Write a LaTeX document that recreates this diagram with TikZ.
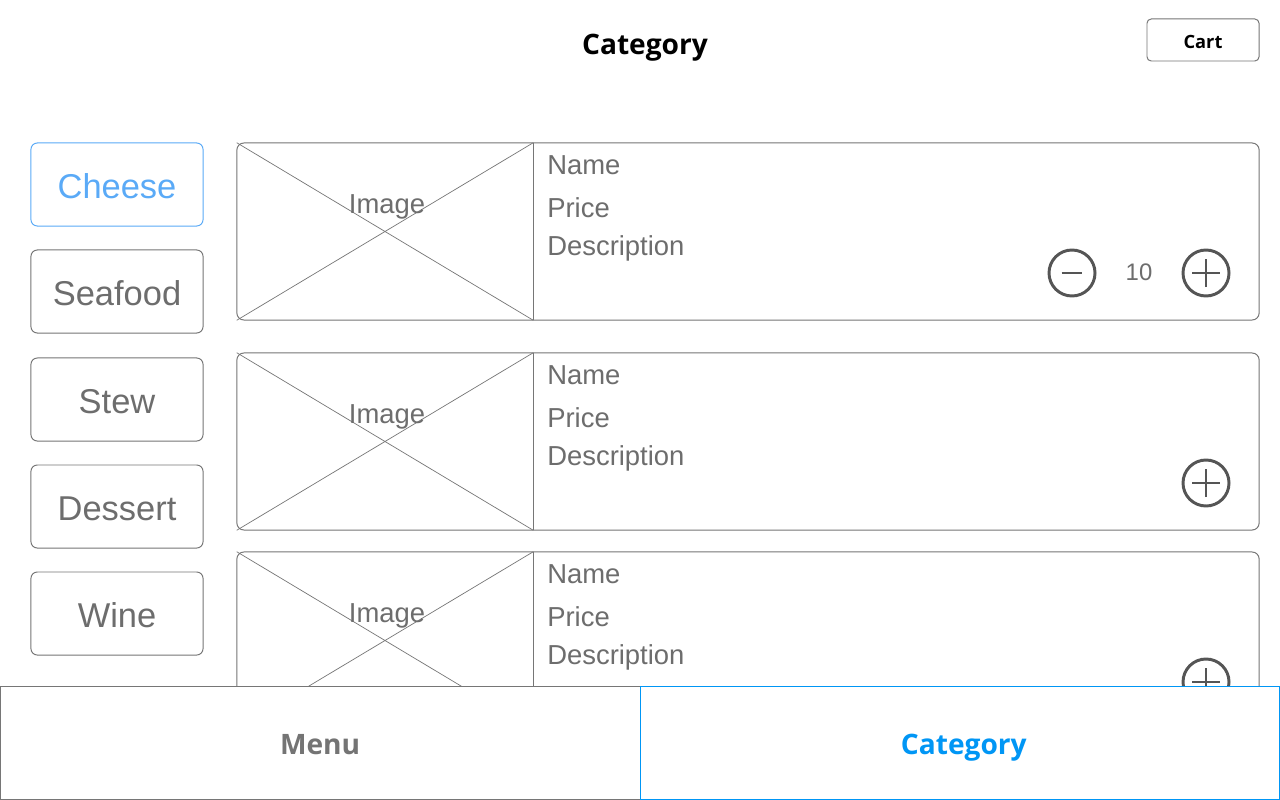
\documentclass[tikz,border=0pt]{standalone}
\usepackage{fontspec}
\setmainfont{Liberation Sans}
\newfontfamily\uifont{Open Sans}
\usepackage{tikz}

\definecolor{txtgray}{HTML}{6D6D6D}
\definecolor{linegray}{HTML}{767676}
\definecolor{iconGray}{HTML}{555555}
\definecolor{softblue}{HTML}{5AAAF7}
\definecolor{strongblue}{HTML}{0096F5}

\tikzset{
  catbtn/.style={draw=linegray,line width=0.7pt,rounded corners=4.5pt,minimum width=4.3cm,minimum height=2.075cm,inner sep=0pt,text height=19.6pt,text depth=0pt,text=txtgray,font=\fontsize{24.5}{28}\selectfont},
  card/.style={draw=linegray,line width=0.7pt,rounded corners=5pt,minimum width=25.55cm,minimum height=4.425cm,inner sep=0pt},
  imgbox/.style={minimum width=7.4cm,minimum height=4.425cm,inner sep=0pt},
  thinln/.style={draw=linegray,line width=0.5pt},
  itemtxt/.style={text=txtgray,font=\fontsize{19.5}{23}\selectfont,inner sep=0pt,text height=14pt,text depth=0pt},
  fieldtxt/.style={itemtxt,anchor=west},
  iconc/.style={circle,draw=iconGray,line width=2.1pt,minimum size=1.15cm,inner sep=0pt},
  iconln/.style={draw=iconGray,line width=2.1pt},
  tabbox/.style={draw,line width=0.7pt,fill=white,minimum width=16cm,minimum height=2.83cm,inner sep=0pt,text height=17pt,text depth=0pt,font=\uifont\bfseries\fontsize{20}{24}\selectfont}
}

\begin{document}
\begin{tikzpicture}[x=0.025cm,y=-0.025cm]
\useasboundingbox[fill=white] (0,0) rectangle (1280,800);

\node[font=\uifont\bfseries\fontsize{20}{24}\selectfont,text height=14.3pt,text depth=0pt] (title) at (645,44) {Category};
\node[draw=linegray,line width=0.7pt,rounded corners=3pt,minimum width=2.8cm,minimum height=1.05cm,inner sep=0pt,text height=11.7pt,text depth=0pt,font=\uifont\bfseries\fontsize{13}{16}\selectfont] (cart) at (1203,40) {Cart};

\node[catbtn,draw=softblue,text=softblue] (cheese) at (117,184.5) {Cheese};
\node[catbtn] (seafood) at (117,291.5) {Seafood};
\node[catbtn] (stew) at (117,399.5) {Stew};
\node[catbtn] (dessert) at (117,506.5) {Dessert};
\node[catbtn] (wine) at (117,613.5) {Wine};

\node[card] (card1) at (748,231.5) {};
\node[imgbox] (img1) at (385,231.5) {};
\draw[thinln] (img1.north west) -- (img1.south east);
\draw[thinln] (img1.south west) -- (img1.north east);
\draw[thinln] (img1.north east) -- (img1.south east);
\node[itemtxt] (imtxt1) at (387,204) {Image};
\node[fieldtxt] (name1) at (547,165) {Name};
\node[fieldtxt] (price1) at (547,208) {Price};
\node[fieldtxt] (desc1) at (547,246) {Description};
\node[iconc] (minus1) at (1072,273) {};
\draw[iconln] ([xshift=-0.26cm]minus1.center) -- ([xshift=0.26cm]minus1.center);
\node[itemtxt,font=\fontsize{17}{20}\selectfont,text height=12.2pt] (qty1) at (1139,272) {10};
\node[iconc] (plus1) at (1206,273) {};
\draw[iconln] ([xshift=-0.35cm]plus1.center) -- ([xshift=0.35cm]plus1.center);
\draw[iconln] ([yshift=-0.35cm]plus1.center) -- ([yshift=0.35cm]plus1.center);

\node[card] (card2) at (748,441.5) {};
\node[imgbox] (img2) at (385,441.5) {};
\draw[thinln] (img2.north west) -- (img2.south east);
\draw[thinln] (img2.south west) -- (img2.north east);
\draw[thinln] (img2.north east) -- (img2.south east);
\node[itemtxt] (imtxt2) at (387,414) {Image};
\node[fieldtxt] (name2) at (547,375) {Name};
\node[fieldtxt] (price2) at (547,418) {Price};
\node[fieldtxt] (desc2) at (547,456) {Description};
\node[iconc] (plus2) at (1206,483) {};
\draw[iconln] ([xshift=-0.35cm]plus2.center) -- ([xshift=0.35cm]plus2.center);
\draw[iconln] ([yshift=-0.35cm]plus2.center) -- ([yshift=0.35cm]plus2.center);

\node[card] (card3) at (748,640.5) {};
\node[imgbox] (img3) at (385,640.5) {};
\draw[thinln] (img3.north west) -- (img3.south east);
\draw[thinln] (img3.south west) -- (img3.north east);
\draw[thinln] (img3.north east) -- (img3.south east);
\node[itemtxt] (imtxt3) at (387,613) {Image};
\node[fieldtxt] (name3) at (547,574) {Name};
\node[fieldtxt] (price3) at (547,617) {Price};
\node[fieldtxt] (desc3) at (547,655) {Description};
\node[iconc] (plus3) at (1206,682) {};
\draw[iconln] ([xshift=-0.35cm]plus3.center) -- ([xshift=0.35cm]plus3.center);
\draw[iconln] ([yshift=-0.35cm]plus3.center) -- ([yshift=0.35cm]plus3.center);

\node[tabbox,draw=linegray,text=txtgray!95!white,minimum width=15.99cm] (menutab) at (320.1,742.6) {Menu};
\node[tabbox,draw=strongblue,text=strongblue,minimum width=15.98cm] (cattab) at (959.8,742.6) {\hspace*{0.2cm}Category};
\end{tikzpicture}
\end{document}
